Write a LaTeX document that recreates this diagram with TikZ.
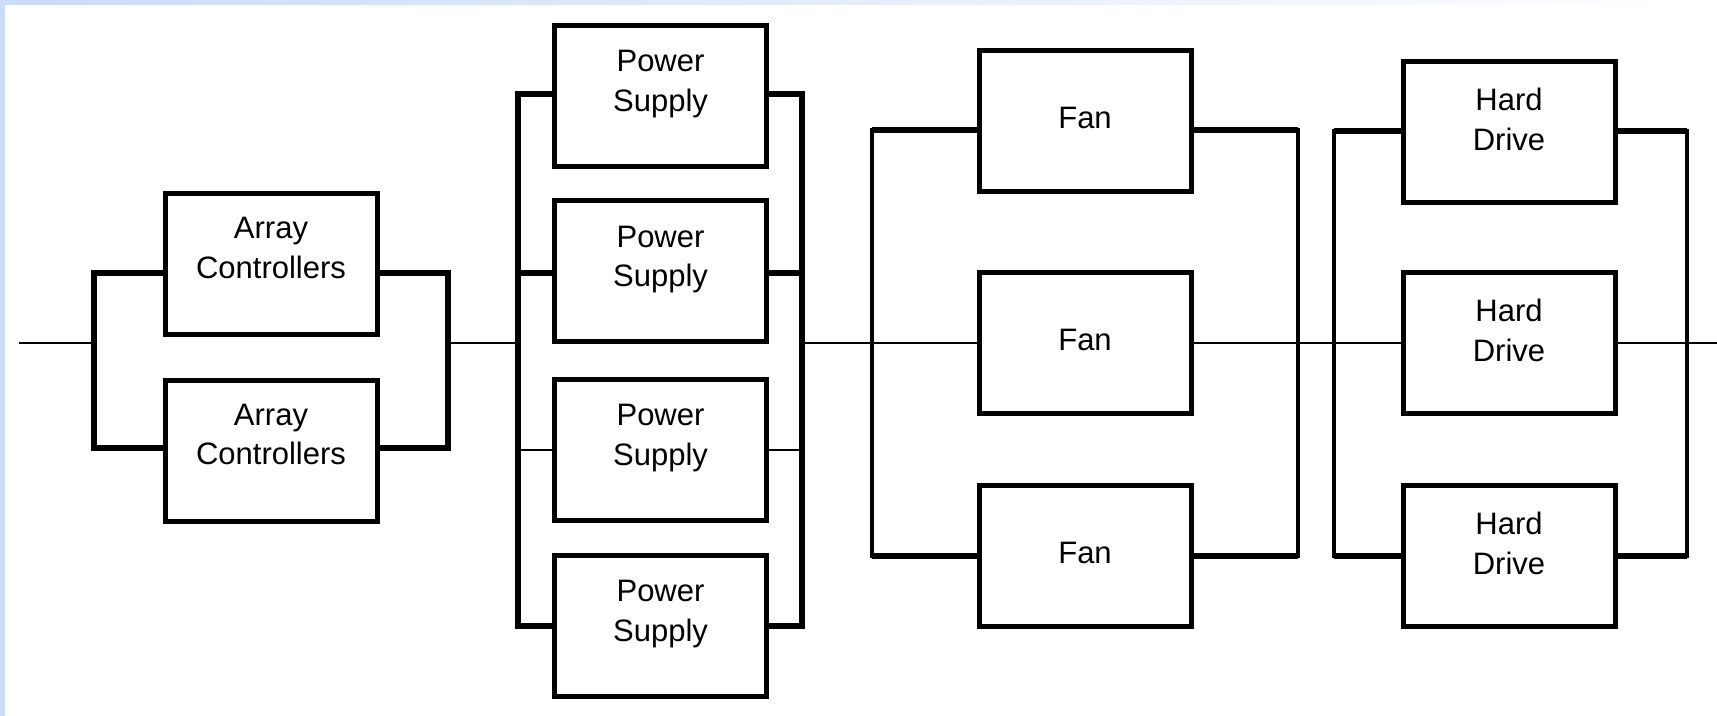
\documentclass[tikz,border=0pt]{standalone}
\usepackage{fontspec}
\setmainfont{Liberation Sans}
\definecolor{frameblue}{RGB}{203,219,248}
\begin{document}
\begin{tikzpicture}[x=0.5pt,y=-0.5pt,
  box/.style={draw, line width=2.5pt, minimum width=106pt, minimum height=70.5pt, inner sep=0pt},
  lbl/.style={align=center, font=\fontsize{15.5}{19.75}\selectfont, inner sep=0pt},
  conn/.style={line width=3pt},
  busline/.style={line width=2pt, line cap=rect},
  thinline/.style={line width=1.2pt}]
\useasboundingbox (0,0) rectangle (1717,716);
\fill[white] (0,0) rectangle (1717,716);
\fill[frameblue] (0,0) rectangle (5,716);
\shade[left color=frameblue, right color=white] (5,0) rectangle (1717,5);

% boxes
\node[box] (A1) at (271,264) {};
\node[box] (A2) at (271,450.5) {};
\node[box] (P1) at (660.5,96) {};
\node[box] (P2) at (660.5,271.5) {};
\node[box] (P3) at (660.5,450) {};
\node[box] (P4) at (660.5,626) {};
\node[box] (F1) at (1085,121) {};
\node[box] (F2) at (1085,343) {};
\node[box] (F3) at (1085,556) {};
\node[box] (H1) at (1509,132) {};
\node[box] (H2) at (1509,343) {};
\node[box] (H3) at (1509,556) {};

% labels
\node[lbl] (A1t) at ([yshift=8pt]A1.center) {Array\\Controllers};
\node[lbl] (A2t) at ([yshift=8pt]A2.center) {Array\\Controllers};
\foreach \p in {P1,P2,P3,P4}
  \node[lbl] (\p t) at ([yshift=5.9pt]\p.center) {Power\\Supply};
\foreach \f in {F1,F2,F3}
  \node[lbl] (\f t) at ([yshift=1.5pt]\f.center) {Fan};
\foreach \h in {H1,H2,H3}
  \node[lbl] (\h t) at ([yshift=6.25pt]\h.center) {Hard\\Drive};

% bus coordinates
\coordinate (in) at (19,343);
\coordinate (out) at (1717,343);
\coordinate (aLt) at (94,273);   \coordinate (aLb) at (94,448);
\coordinate (aRt) at (448,273);  \coordinate (aRb) at (448,448);
\coordinate (pLt) at (518,94);   \coordinate (pLb) at (518,626);
\coordinate (pRt) at (802,94);   \coordinate (pRb) at (802,626);
\coordinate (pL2) at (518,273);  \coordinate (pR2) at (802,273);
\coordinate (pL3) at (518,450);  \coordinate (pR3) at (802,450);
\coordinate (fLt) at (872,130);  \coordinate (fLb) at (872,556);
\coordinate (fRt) at (1297.5,130); \coordinate (fRb) at (1297.5,556);
\coordinate (hLt) at (1334,131); \coordinate (hLb) at (1334,556);
\coordinate (hRt) at (1687,131); \coordinate (hRb) at (1687,556);

% array controllers
\draw[thinline] (in) -- (aLt |- in);
\draw[conn] (A1.west |- aLt) -- (aLt) -- (aLb) -- (A2.west |- aLb);
\draw[conn] (A1.east |- aRt) -- (aRt) -- (aRb) -- (A2.east |- aRb);
\draw[thinline] (aRt |- in) -- (pLt |- in);

% power supplies
\draw[conn] (P1.west |- pLt) -- (pLt) -- (pLb) -- (P4.west |- pLb);
\draw[conn] (P1.east |- pRt) -- (pRt) -- (pRb) -- (P4.east |- pRb);
\draw[conn] (P2.west |- pL2) -- (pL2);
\draw[conn] (P2.east |- pR2) -- (pR2);
\draw[thinline] (P3.west |- pL3) -- (pL3);
\draw[thinline] (P3.east |- pR3) -- (pR3);
\draw[thinline] (pRt |- in) -- (F2.west);

% fans
\draw[busline] (fLt) -- (fLb);
\draw[busline] (fRt) -- (fRb);
\draw[conn] (F1.west |- fLt) -- (fLt);
\draw[conn] (F3.west |- fLb) -- (fLb);
\draw[conn] (F1.east |- fRt) -- (fRt);
\draw[conn] (F3.east |- fRb) -- (fRb);
\draw[thinline] (F2.east) -- (H2.west);

% hard drives
\draw[busline] (hLt) -- (hLb);
\draw[busline] (hRt) -- (hRb);
\draw[conn] (H1.west |- hLt) -- (hLt);
\draw[conn] (H3.west |- hLb) -- (hLb);
\draw[conn] (H1.east |- hRt) -- (hRt);
\draw[conn] (H3.east |- hRb) -- (hRb);
\draw[thinline] (H2.east) -- (out);
\end{tikzpicture}
\end{document}
